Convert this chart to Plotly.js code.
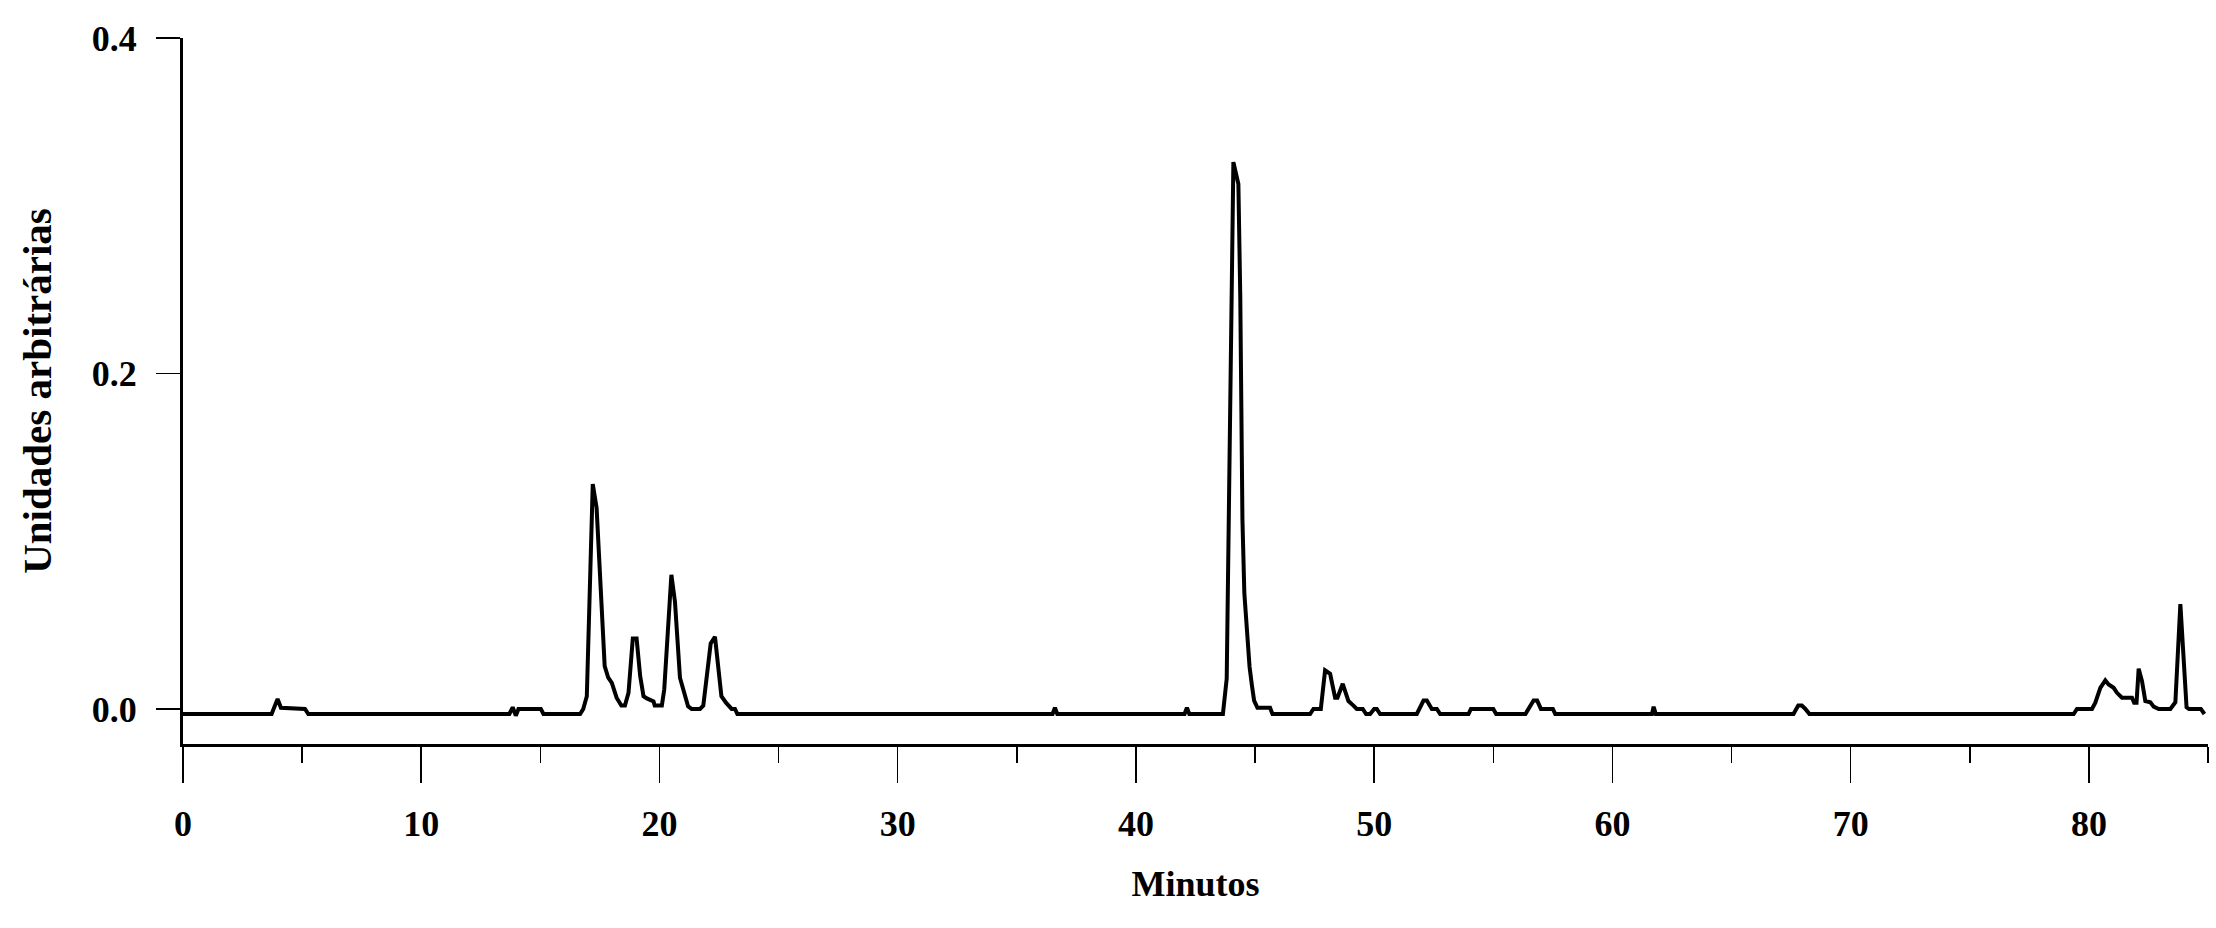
<!DOCTYPE html>
<html>
<head>
<meta charset="utf-8">
<script src="https://cdn.plot.ly/plotly-3.0.1.min.js"></script>
<style>
  html, body { margin: 0; padding: 0; background: #ffffff; }
  #chart { width: 2216px; height: 928px; }
</style>
</head>
<body>
<div id="chart"></div>
<script>
// Retention time (minutes)
const minutes = [
  0, 3.72, 3.97, 4.11, 5.12, 5.26,
  13.70, 13.84, 13.97, 14.08, 15.02, 15.13,
  16.67, 16.80, 16.95, 17.20, 17.36, 17.70, 17.85, 18.00, 18.20, 18.40, 18.55, 18.70,
  18.88, 19.04, 19.19, 19.33, 19.47, 19.60, 19.75, 19.80, 20.10, 20.20, 20.37, 20.50,
  20.65, 20.86, 21.00, 21.20, 21.35, 21.70, 21.84, 22.00, 22.15, 22.33, 22.47, 22.60,
  22.80, 23.03, 23.17, 23.27,
  36.50, 36.60, 36.70, 42.04, 42.14, 42.24,
  43.65, 43.81, 44.09, 44.30, 44.38, 44.47, 44.55, 44.65, 44.77, 44.87, 44.96, 45.10, 45.63, 45.73,
  47.31, 47.45, 47.76, 47.94, 48.15, 48.36, 48.46, 48.68, 48.92, 49.13, 49.27, 49.52,
  49.66, 49.83, 50.00, 50.11, 50.25,
  51.79, 52.07, 52.21, 52.42, 52.63, 52.77,
  53.96, 54.06, 55.00, 55.12,
  56.35, 56.69, 56.84, 57.00, 57.50, 57.60,
  61.66, 61.73, 61.82,
  67.60, 67.80, 67.95, 68.10, 68.27,
  79.36, 79.50, 80.13, 80.27, 80.48, 80.69, 80.83, 81.04, 81.18, 81.39, 81.81, 81.90,
  82.00, 82.09, 82.23, 82.37, 82.58, 82.72, 82.93, 83.42, 83.63, 83.84, 84.10, 84.20,
  84.70, 84.85
];

// Detector signal (arbitrary units)
const signal = [
  -0.003, -0.003, 0.006, 0.0007, 0.0, -0.003,
  -0.003, 0.001, -0.004, 0.0, 0.0, -0.003,
  -0.003, 0.0, 0.0076, 0.134, 0.120, 0.0255, 0.0186, 0.0155, 0.0067, 0.002, 0.002, 0.0096,
  0.042, 0.042, 0.0196, 0.0076, 0.0063, 0.0053, 0.0045, 0.002, 0.002, 0.0116, 0.049, 0.080,
  0.064, 0.0186, 0.0116, 0.0016, 0.0, 0.0, 0.002, 0.0235, 0.039, 0.043, 0.0255, 0.0076,
  0.0036, 0.0, 0.0, -0.003,
  -0.003, 0.0007, -0.003, -0.003, 0.0007, -0.003,
  -0.003, 0.018, 0.326, 0.313, 0.245, 0.113, 0.069, 0.047, 0.025, 0.0139, 0.005, 0.0007, 0.0007, -0.003,
  -0.003, 0.0, 0.0, 0.023, 0.021, 0.0067, 0.0067, 0.015, 0.0047, 0.002, 0.0, 0.0,
  -0.003, -0.003, 0.0, 0.0, -0.003,
  -0.003, 0.005, 0.005, 0.0, 0.0, -0.003,
  -0.003, 0.0, 0.0, -0.003,
  -0.003, 0.005, 0.005, 0.0, 0.0, -0.003,
  -0.003, 0.0013, -0.003,
  -0.003, 0.002, 0.002, 0.0, -0.003,
  -0.003, 0.0, 0.0, 0.0037, 0.0126, 0.0170, 0.0146, 0.0126, 0.0096, 0.0067, 0.0067, 0.0037,
  0.0037, 0.024, 0.0166, 0.0047, 0.004, 0.0014, 0.0, 0.0, 0.004, 0.0625, 0.001, 0.0,
  0.0, -0.003
];

const xTickVals = [0, 10, 20, 30, 40, 50, 60, 70, 80];
const xTickText = ['0', '10', '20', '30', '40', '50', '60', '70', '80'];
const yTickVals = [0.0, 0.2, 0.4];
const yTickText = ['0.0', '0.2', '0.4'];

const serifBold = { family: 'Liberation Serif, Times New Roman, serif', size: 36, color: '#000000', weight: 'bold' };

const trace = {
  x: minutes,
  y: signal,
  type: 'scatter',
  mode: 'lines',
  line: { color: '#000000', width: 4, shape: 'linear' },
  hoverinfo: 'skip',
  showlegend: false
};

const layout = {
  width: 2216,
  height: 928,
  paper_bgcolor: '#ffffff',
  plot_bgcolor: '#ffffff',
  margin: { l: 183, r: 8, t: 38, b: 184 },
  showlegend: false,
  xaxis: {
    range: [0, 85],
    tickmode: 'array',
    tickvals: xTickVals,
    ticktext: xTickText,
    ticks: 'outside',
    ticklen: 36,
    tickwidth: 1.5,
    tickcolor: '#000000',
    ticklabelstandoff: 10,
    minor: { dtick: 5, tick0: 0, ticks: 'outside', ticklen: 16, tickwidth: 1.5, tickcolor: '#000000', showgrid: false },
    showline: true,
    linecolor: '#000000',
    linewidth: 2.5,
    showgrid: false,
    zeroline: false,
    tickfont: serifBold,
    title: { text: 'Minutos', font: serifBold, standoff: 28 }
  },
  yaxis: {
    range: [-0.0209, 0.4],
    tickmode: 'array',
    tickvals: yTickVals,
    ticktext: yTickText,
    ticks: 'outside',
    ticklen: 24,
    tickwidth: 1.5,
    tickcolor: '#000000',
    ticklabelstandoff: 12,
    showline: true,
    linecolor: '#000000',
    linewidth: 3,
    showgrid: false,
    zeroline: false,
    tickfont: serifBold,
    title: { text: 'Unidades arbitrárias', font: Object.assign({}, serifBold, { size: 41 }), standoff: 28 }
  }
};

Plotly.newPlot('chart', [trace], layout, { displayModeBar: false, staticPlot: true });
</script>
</body>
</html>
